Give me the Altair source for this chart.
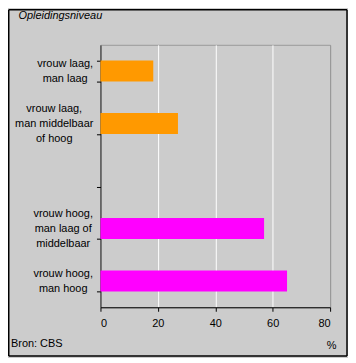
import altair as alt
import pandas as pd

categories = ["vrouw laag,|man laag", "vrouw laag,|man middelbaar|of hoog",
              "vrouw hoog,|man laag of|middelbaar", "vrouw hoog,|man hoog"]
domain_order = ["vrouw laag,|man laag", "vrouw laag,|man middelbaar|of hoog", " ",
                "vrouw hoog,|man laag of|middelbaar", "vrouw hoog,|man hoog"]
values = [18.4, 27.0, 57.0, 65.0]
colors = ["#FF9900", "#FF9900", "#FF00FF", "#FF00FF"]
x_ticks = [0, 20, 40, 60, 80]

df = pd.DataFrame({"cat": categories, "val": values, "col": colors})

FONT = "Liberation Sans"

bars = alt.Chart(df).mark_bar().encode(
    y=alt.Y("cat:N", sort=domain_order,
            scale=alt.Scale(domain=domain_order, paddingInner=0.6, paddingOuter=0.3),
            axis=alt.Axis(title="Opleidingsniveau", titleAngle=0, titleX=-83, titleY=-26,
                          titleAlign="left", titleBaseline="alphabetic",
                          titleFontStyle="italic", titleFontWeight="normal",
                          titleFont=FONT, titleFontSize=11, titleColor="black",
                          labelExpr="split(datum.label, '|')", labelAlign="center",
                          labelBaseline="middle", labelLineHeight=15,
                          labelOffset={"condition": {"test": "length(split(datum.value, '|')) == 3",
                                                     "value": -15},
                                       "value": -7.5},
                          labelPadding={"condition": [
                              {"test": "datum.value == 'vrouw laag,|man middelbaar|of hoog'", "value": 43},
                              {"test": "datum.value == 'vrouw laag,|man laag'", "value": 32}],
                              "value": 34},
                          tickSize=4, tickBand="extent",
                          labelFont=FONT, labelFontSize=11, labelColor="black",
                          domainColor="black", tickColor="black", grid=False)),
    x=alt.X("val:Q", scale=alt.Scale(domain=[0, 80], nice=False),
            axis=alt.Axis(values=x_ticks, title="%", titleX=232, titleY=41,
                          titleAlign="center", titleBaseline="alphabetic",
                          titleFont=FONT, titleFontSize=11, titleFontWeight="normal",
                          titleColor="black",
                          labelFont=FONT, labelFontSize=11, labelColor="black",
                          labelPadding=6, tickSize=4, domainColor="black",
                          tickColor="black", grid=True,
                          gridColor={"condition": {"test": "datum.value == 80", "value": "#999999"},
                                     "value": "white"},
                          gridOpacity=1)),
    color=alt.Color("col:N", scale=None),
)

src = alt.Chart(pd.DataFrame({"t": ["Bron: CBS"]})).mark_text(
    align="left", baseline="alphabetic", font=FONT, fontSize=11, color="black"
).encode(text="t:N", x=alt.value(-90), y=alt.value(304))

one = pd.DataFrame({"a": [0]})
L, R, T, B = -92.25, 248, -35.25, 313
st = dict(color="#000000", strokeWidth=1.5, clip=False)
layers = [
    alt.Chart(one).mark_rule(**st).encode(x=alt.value(L), x2=alt.value(R), y=alt.value(T)),
    alt.Chart(one).mark_rule(**st).encode(x=alt.value(L), y=alt.value(T), y2=alt.value(B)),
    alt.Chart(one).mark_rule(**st).encode(x=alt.value(L), x2=alt.value(R), y=alt.value(B)),
    alt.Chart(one).mark_rule(**st).encode(x=alt.value(R), y=alt.value(T), y2=alt.value(B)),
    bars,
    src,
]

chart = alt.layer(*layers).properties(
    width=231, height=264,
    autosize=alt.AutoSizeParams(type="none"),
    padding={"left": 93, "top": 36, "right": 18, "bottom": 50},
    background="#cccccc",
).configure_view(stroke="#999999", fill="#cccccc")

chart.save("out.html", embed_options={"renderer": "svg", "actions": False})
